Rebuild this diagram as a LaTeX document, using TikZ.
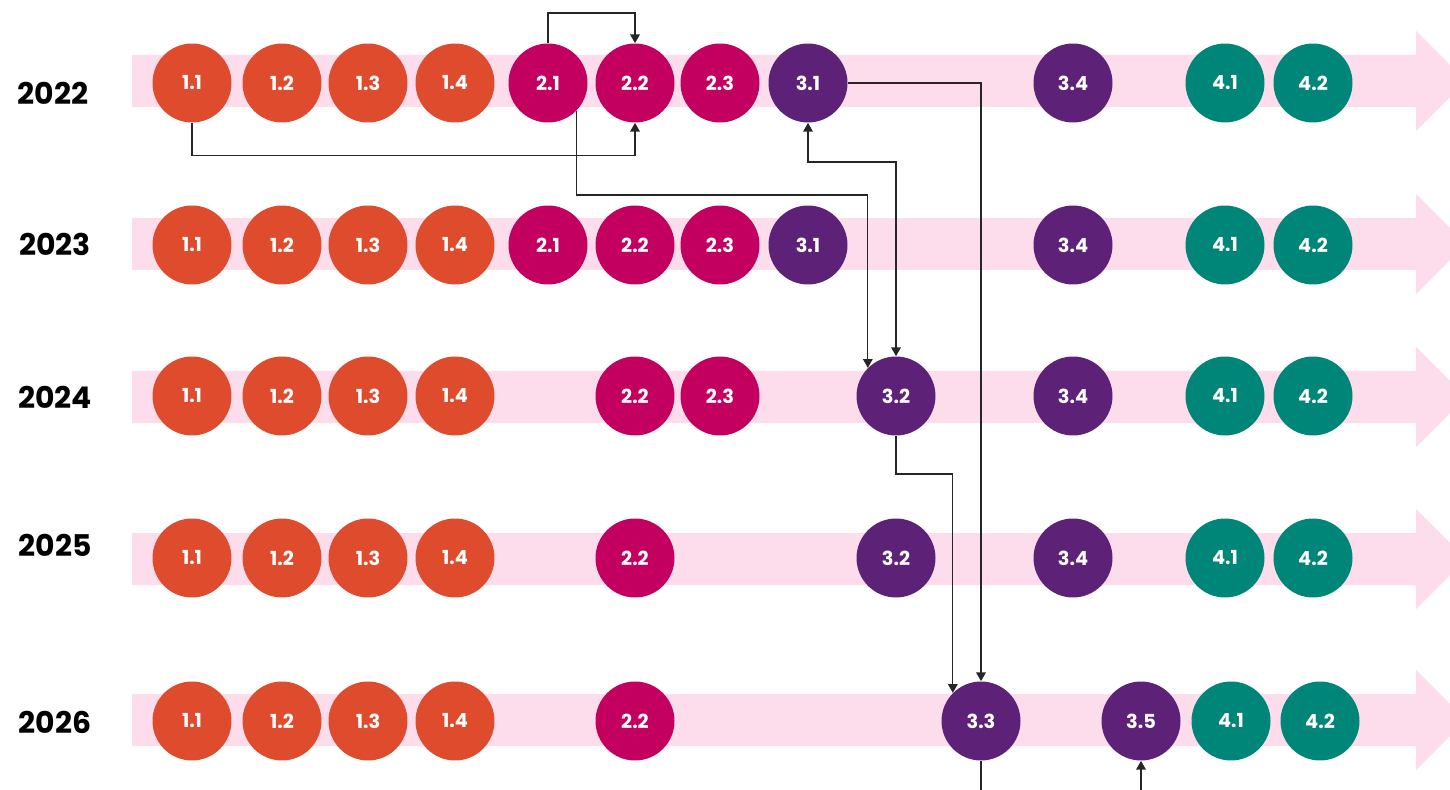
\documentclass[tikz,border=0pt]{standalone}
\usepackage{fontspec}
\setmainfont{Poppins}
\usetikzlibrary{arrows.meta}
\definecolor{rust}{HTML}{DE4B2D}
\definecolor{berry}{HTML}{C30060}
\definecolor{plum}{HTML}{5D2278}
\definecolor{sea}{HTML}{008579}
\definecolor{blush}{HTML}{FDDDEB}
\tikzset{
  dot/.style={circle,fill=#1,text=white,minimum size=1.58cm,inner sep=0pt,
    font=\bfseries\fontsize{11}{11}\selectfont},
  year/.style={font=\bfseries\fontsize{17}{17}\selectfont},
  conn/.style={draw=black!85,line width=0.75pt},
}
\begin{document}
\begin{tikzpicture}[x=0.02cm,y=-0.02cm,>={Triangle[length=5pt,width=5.5pt]}]
		\useasboundingbox (0,0) rectangle (1450,790);
		\clip (0,0) rectangle (1450,790);
		% timeline bands
		\foreach \y in {81,244,397,559,720}{\fill[blush] (132,\y-26) -- (1416,\y-26) -- (1416,\y-50) -- (1466,\y) -- (1416,\y+50) -- (1416,\y+26) -- (132,\y+26) -- cycle;}
		\foreach \yr/\x/\y in {2022/53/93,2023/55/244,2024/55/397,2025/55/545,2026/55/722}{\node[year] (y\yr) at (\x,\y) {\yr};}
		% measures per year
		\foreach \a/\b/\x/\c in {1/1/192/rust,1/2/282/rust,1/3/368/rust,1/4/455/rust,2/1/548/berry,2/2/635/berry,2/3/720/berry,3/1/808/plum,3/4/1073/plum,4/1/1225/sea,4/2/1313/sea}{\node[dot=\c] (p22-\a\b) at (\x,83) {\a.\b};}
		\foreach \a/\b/\x/\c in {1/1/192/rust,1/2/282/rust,1/3/368/rust,1/4/455/rust,2/1/548/berry,2/2/635/berry,2/3/720/berry,3/1/808/plum,3/4/1073/plum,4/1/1225/sea,4/2/1313/sea}{\node[dot=\c] (p23-\a\b) at (\x,245) {\a.\b};}
		\foreach \a/\b/\x/\c in {1/1/192/rust,1/2/282/rust,1/3/368/rust,1/4/455/rust,2/2/635/berry,2/3/720/berry,3/2/896/plum,3/4/1073/plum,4/1/1225/sea,4/2/1313/sea}{\node[dot=\c] (p24-\a\b) at (\x,396) {\a.\b};}
		\foreach \a/\b/\x/\c in {1/1/192/rust,1/2/282/rust,1/3/368/rust,1/4/455/rust,2/2/635/berry,3/2/896/plum,3/4/1073/plum,4/1/1225/sea,4/2/1313/sea}{\node[dot=\c] (p25-\a\b) at (\x,558) {\a.\b};}
		\foreach \a/\b/\x/\c in {1/1/192/rust,1/2/282/rust,1/3/368/rust,1/4/455/rust,2/2/635/berry,3/3/981/plum,3/5/1141/plum,4/1/1231/sea,4/2/1320/sea}{\node[dot=\c] (p26-\a\b) at (\x,721) {\a.\b};}
		% links
		\draw[conn,->] (p22-11.south) -- ++(0,33) -| (p22-22.south);
		\draw[conn,->] (p22-21.north) -- ++(0,-30) -| (p22-22.north);
		\draw[conn,->] (p22-21.-45) |- (720,195) -| (p24-32.135);
		\draw[conn,<->] (p22-31.south) |- (850,162) -| (p24-32.north);
		\draw[conn,->] (p22-31.east) -| (p26-33.north);
		\draw[conn,->] (p24-32.south) |- (920,474) -| (p26-33.135);
		\coordinate (down33) at (981,800);
		\coordinate (up35) at (1141,800);
		\draw[conn] (p26-33.south) -- (down33);
		\draw[conn,->] (up35) -- (p26-35.south);
\end{tikzpicture}
\end{document}
